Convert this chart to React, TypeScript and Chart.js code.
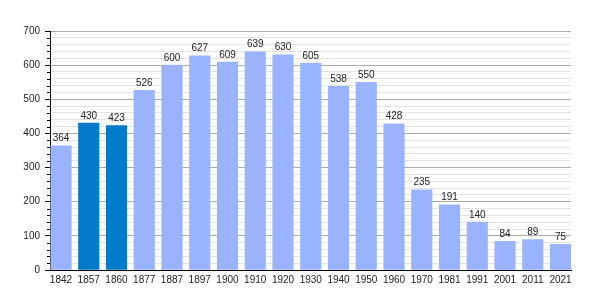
import React, { useEffect, useRef } from "react";
import { Chart, registerables } from "chart.js";

Chart.register(...registerables);

const years = ["1842", "1857", "1860", "1877", "1887", "1897", "1900", "1910", "1920", "1930", "1940", "1950", "1960", "1970", "1981", "1991", "2001", "2011", "2021"];
const population = [364, 430, 423, 526, 600, 627, 609, 639, 630, 605, 538, 550, 428, 235, 191, 140, 84, 89, 75];
const highlightedYears = ["1857", "1860"];
const yMax = 700;
const yMinorStep = 20;
const yMajorStep = 100;

const FONT = "'Liberation Sans', Arial, sans-serif";
const LIGHT = "#99b3ff";
const DARK = "#007ac9";

const valueLabels = {
  id: "valueLabels",
  afterDatasetsDraw(chart: any) {
    const ctx = chart.ctx;
    const meta = chart.getDatasetMeta(0);
    ctx.save();
    ctx.font = `10px ${FONT}`;
    ctx.fillStyle = "#222";
    ctx.textAlign = "center";
    ctx.textBaseline = "alphabetic";
    meta.data.forEach((bar: any, i: number) => {
      ctx.fillText(String(population[i]), bar.x, bar.y - 4.5);
    });
    ctx.restore();
  },
};

const minorTicks = {
  id: "minorTicks",
  afterDraw(chart: any) {
    const ctx = chart.ctx;
    const y = chart.scales.y;
    const left = chart.chartArea.left;
    ctx.save();
    ctx.strokeStyle = "#000";
    ctx.lineWidth = 1;
    ctx.beginPath();
    for (let v = yMinorStep; v < yMax; v += yMinorStep) {
      if (v % yMajorStep === 0) continue;
      const py = Math.round(y.getPixelForValue(v)) + 0.5;
      ctx.moveTo(left - 3, py);
      ctx.lineTo(left, py);
    }
    ctx.stroke();
    ctx.restore();
  },
};

export default function App() {
  const ref = useRef<HTMLCanvasElement>(null);

  useEffect(() => {
    if (!ref.current) return;
    const chart = new Chart(ref.current, {
      type: "bar",
      data: {
        datasets: [
          {
            data: population.map((v, i) => ({ x: i, y: v })),
            backgroundColor: years.map((y) => (highlightedYears.includes(y) ? DARK : LIGHT)),
            borderWidth: 0,
            barThickness: 20.5,
          },
        ],
      },
      options: {
        responsive: false,
        animation: false,
        events: [],
        layout: { padding: { top: 31, right: 29, left: 0, bottom: 0 } },
        plugins: { legend: { display: false }, tooltip: { enabled: false } },
        scales: {
          x: {
            type: "linear",
            offset: false,
            min: -0.396,
            max: 18.378,
            afterBuildTicks: (s: any) => {
              s.ticks = years.map((_, i) => ({ value: i }));
            },
            afterFit: (s: any) => {
              s.height = 30;
            },
            grid: { display: false, drawTicks: false, offset: false },
            border: { display: true, color: "#000", width: 1 },
            ticks: {
              autoSkip: false,
              maxRotation: 0,
              padding: 4,
              color: "#222",
              font: { family: FONT, size: 10 },
              callback: (v: any) => years[v] ?? "",
            },
          },
          y: {
            min: 0,
            max: yMax,
            afterFit: (s: any) => {
              s.width = 50;
            },
            grid: {
              color: (c: any) => (c.tick && c.tick.value % yMajorStep === 0 ? "#aaaaaa" : "#e3e3e3"),
              tickColor: (c: any) => (c.tick && c.tick.value % yMajorStep === 0 ? "#000" : "rgba(0,0,0,0)"),
              tickLength: 5,
            },
            border: { display: true, color: "#000", width: 1 },
            ticks: {
              stepSize: yMinorStep,
              autoSkip: false,
              padding: 5,
              color: "#222",
              font: { family: FONT, size: 10 },
              callback: (v: any) => (v % yMajorStep === 0 ? String(v) : ""),
            },
          },
        },
      },
      plugins: [valueLabels, minorTicks],
    });
    return () => chart.destroy();
  }, []);

  return (
    <div style={{ position: "absolute", left: 0, top: 0, width: 600, height: 300, background: "#fff" }}>
      <canvas ref={ref} width={600} height={300} />
    </div>
  );
}
